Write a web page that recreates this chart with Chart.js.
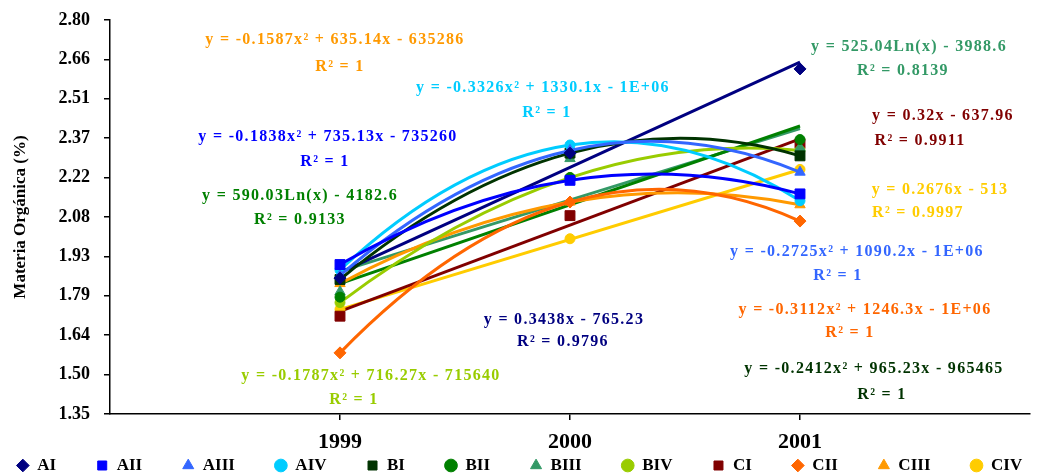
<!DOCTYPE html>
<html>
<head>
<meta charset="utf-8">
<script src="https://cdn.jsdelivr.net/npm/chart.js@4.4.0/dist/chart.umd.min.js"></script>
<style>
  html, body { margin: 0; padding: 0; background: #fff; overflow: hidden; }
  #chart { display: block; }
</style>
</head>
<body>
<canvas id="chart" width="1038" height="474"></canvas>
<script>
// years of the samples, and the two ends of the straight trend lines
const years = [1999, 2000, 2001];
const trendYears = [1999, 2001];

const seriesNames = ["AI", "AII", "AIII", "AIV", "BI", "BII", "BIII", "BIV", "CI", "CII", "CIII", "CIV"];

// organic matter (%)
const valuesAI   = [1.85, 2.31, 2.62];
const valuesAII  = [1.90, 2.21, 2.16];
const valuesAIII = [1.86, 2.32, 2.24];
const valuesAIV  = [1.88, 2.34, 2.135];
const valuesBI   = [1.845, 2.31, 2.30];
const valuesBII  = [1.78, 2.22, 2.36];
const valuesBIII = [1.80, 2.29, 2.33];
const valuesBIV  = [1.76, 2.22, 2.32];
const valuesCI   = [1.71, 2.08, 2.345];
const valuesCII  = [1.575, 2.13, 2.06];
const valuesCIII = [1.83, 2.13, 2.12];
const valuesCIV  = [1.735, 1.995, 2.25];

// linear / log trend lines (ends)
const trendAI   = [1.87, 2.645];
const trendBII  = [1.83, 2.41];
const trendBIII = [1.875, 2.40];
const trendCI   = [1.7275, 2.3625];
const trendCIV  = [1.735, 2.25];

const yTicks = [1.35, 1.495, 1.64, 1.785, 1.93, 2.075, 2.22, 2.365, 2.51, 2.655, 2.80];
const yTickLabels = ["1.35", "1.50", "1.64", "1.79", "1.93", "2.08", "2.22", "2.37", "2.51", "2.66", "2.80"];
const xTicks = [1999, 2000, 2001];

const FONT = '"Liberation Serif", "Times New Roman", serif';

const seriesValues = {
    AI: valuesAI, AII: valuesAII, AIII: valuesAIII, AIV: valuesAIV,
    BI: valuesBI, BII: valuesBII, BIII: valuesBIII, BIV: valuesBIV,
    CI: valuesCI, CII: valuesCII, CIII: valuesCIII, CIV: valuesCIV
};
const trendValues = { AI: trendAI, BII: trendBII, BIII: trendBIII, CI: trendCI, CIV: trendCIV };

const seriesStyle = {
    AI:   { color: "#000080", marker: "rectRot" },
    AII:  { color: "#0000FF", marker: "rect" },
    AIII: { color: "#3366FF", marker: "triangle" },
    AIV:  { color: "#00CCFF", marker: "circle" },
    BI:   { color: "#003300", marker: "rect" },
    BII:  { color: "#008000", marker: "circle" },
    BIII: { color: "#339966", marker: "triangle" },
    BIV:  { color: "#99CC00", marker: "circle" },
    CI:   { color: "#800000", marker: "rect" },
    CII:  { color: "#FF6600", marker: "rectRot" },
    CIII: { color: "#FF9900", marker: "triangle" },
    CIV:  { color: "#FFCC00", marker: "circle" }
};

// trend equations written on the chart (canvas pixels)
const equationLabels = [
    { s: "CIII", text: "y = -0.1587x² + 635.14x - 635286", r2: "R² = 1",      x: 335, y: 40,  rx: 340, ry: 67 },
    { s: "AIV",  text: "y = -0.3326x² + 1330.1x - 1E+06",  r2: "R² = 1",      x: 543, y: 88,  rx: 547, ry: 113 },
    { s: "AII",  text: "y = -0.1838x² + 735.13x - 735260", r2: "R² = 1",      x: 328, y: 137, rx: 325, ry: 162 },
    { s: "BII",  text: "y = 590.03Ln(x) - 4182.6",         r2: "R² = 0.9133", x: 300, y: 196, rx: 300, ry: 220 },
    { s: "AI",   text: "y = 0.3438x - 765.23",             r2: "R² = 0.9796", x: 564, y: 320, rx: 563, ry: 342 },
    { s: "BIV",  text: "y = -0.1787x² + 716.27x - 715640", r2: "R² = 1",      x: 371, y: 376, rx: 354, ry: 400 },
    { s: "BIII", text: "y = 525.04Ln(x) - 3988.6",         r2: "R² = 0.8139", x: 909, y: 47,  rx: 903, ry: 71 },
    { s: "CI",   text: "y = 0.32x - 637.96",               r2: "R² = 0.9911", x: 943, y: 116, rx: 920, ry: 141 },
    { s: "CIV",  text: "y = 0.2676x - 513",                r2: "R² = 0.9997", x: 940, y: 190, rx: 918, ry: 213 },
    { s: "AIII", text: "y = -0.2725x² + 1090.2x - 1E+06",  r2: "R² = 1",      x: 857, y: 252, rx: 838, ry: 276 },
    { s: "CII",  text: "y = -0.3112x² + 1246.3x - 1E+06",  r2: "R² = 1",      x: 865, y: 310, rx: 850, ry: 333 },
    { s: "BI",   text: "y = -0.2412x² + 965.23x - 965465", r2: "R² = 1",      x: 874, y: 369, rx: 882, ry: 395 }
];

function toPoints(xs, ys) {
    return xs.map((x, i) => ({ x: x, y: ys[i] }));
}

const datasets = [];

seriesNames.forEach(name => {
    const st = seriesStyle[name];
    const curved = !trendValues[name];
    datasets.push({
        label: name,
        isCurve: curved,
        data: toPoints(years, seriesValues[name]),
        borderColor: st.color,
        backgroundColor: st.color,
        pointBackgroundColor: st.color,
        pointBorderColor: st.color,
        pointBorderWidth: 1,
        pointStyle: st.marker,
        pointRadius: st.marker === "rect" ? 7 : (st.marker === "circle" ? 5 : 6),
        borderWidth: 3,
        showLine: curved,
        tension: 0.4,
        capBezierPoints: false,
        order: 0
    });
});

Object.keys(trendValues).forEach(name => {
    datasets.push({
        label: name + " trend",
        isTrend: true,
        data: toPoints(trendYears, trendValues[name]),
        borderColor: seriesStyle[name].color,
        borderWidth: 3,
        pointRadius: 0,
        showLine: true,
        order: 1
    });
});

// polynomial trend lines pass through the three points: bend them like a parabola
const parabolaPlugin = {
    id: "parabola",
    beforeDatasetDraw(chart, args) {
        const ds = chart.data.datasets[args.index];
        if (!ds.isCurve) return;
        const p = args.meta.data;
        if (p.length !== 3) return;
        args.meta.dataset.updateControlPoints(chart.chartArea, "x");
        const dx = (p[2].x - p[0].x) / 2;
        const s0 = (-3 * p[0].y + 4 * p[1].y - p[2].y) / (2 * dx);
        const s1 = (p[2].y - p[0].y) / (2 * dx);
        const s2 = (p[0].y - 4 * p[1].y + 3 * p[2].y) / (2 * dx);
        const h = dx / 3;
        p[0].cp2x = p[0].x + h; p[0].cp2y = p[0].y + s0 * h;
        p[1].cp1x = p[1].x - h; p[1].cp1y = p[1].y - s1 * h;
        p[1].cp2x = p[1].x + h; p[1].cp2y = p[1].y + s1 * h;
        p[2].cp1x = p[2].x - h; p[2].cp1y = p[2].y - s2 * h;
    }
};

const equationPlugin = {
    id: "equations",
    afterDatasetsDraw(chart) {
        const ctx = chart.ctx;
        ctx.save();
        ctx.font = "bold 16px " + FONT;
        ctx.letterSpacing = "1.3px";
        ctx.textAlign = "center";
        ctx.textBaseline = "middle";
        equationLabels.forEach(e => {
            ctx.fillStyle = seriesStyle[e.s].color;
            ctx.fillText(e.text, e.x, e.y);
            ctx.fillText(e.r2, e.rx, e.ry);
        });
        ctx.restore();
    }
};

new Chart(document.getElementById("chart"), {
    type: "line",
    data: { datasets: datasets },
    plugins: [parabolaPlugin, equationPlugin],
    options: {
        responsive: false,
        animation: false,
        devicePixelRatio: 1,
        layout: { padding: { left: 4, right: 3, top: 20, bottom: -10 } },
        plugins: {
            tooltip: { enabled: false },
            legend: {
                position: "bottom",
                labels: {
                    usePointStyle: true,
                    boxWidth: 12,
                    boxHeight: 9,
                    padding: 6,
                    color: "#000",
                    font: { family: FONT, size: 17, weight: "bold" },
                    generateLabels(chart) {
                        const items = Chart.defaults.plugins.legend.labels.generateLabels(chart)
                            .filter(it => !chart.data.datasets[it.datasetIndex].isTrend);
                        items.forEach((it, i) => {
                            if (i < items.length - 1) {
                                it.text += "        ";
                            }
                        });
                        return items;
                    }
                }
            }
        },
        scales: {
            x: {
                type: "linear",
                min: 1998,
                max: 2002,
                afterBuildTicks(scale) {
                    scale.ticks = xTicks.map(v => ({ value: v }));
                },
                afterFit(scale) {
                    scale.height = 37;
                },
                ticks: {
                    color: "#000",
                    padding: 9,
                    font: { family: FONT, size: 22, weight: "bold" },
                    callback: v => String(v)
                },
                grid: { drawOnChartArea: false, tickLength: 6, color: "#000", lineWidth: 1.5 },
                border: { color: "#000", width: 1.5 }
            },
            y: {
                min: 1.35,
                max: 2.80,
                afterBuildTicks(scale) {
                    scale.ticks = yTicks.map(v => ({ value: v }));
                },
                afterFit(scale) {
                    scale.width = 106;
                    scale.paddingTop = 8;
                    scale.paddingBottom = 8;
                },
                ticks: {
                    color: "#000",
                    padding: 14,
                    font: { family: FONT, size: 18, weight: "bold" },
                    callback: (v, i) => yTickLabels[i]
                },
                grid: { drawOnChartArea: false, tickLength: 6, color: "#000", lineWidth: 1.5 },
                border: { color: "#000", width: 1.5 },
                title: {
                    display: true,
                    text: "Materia Orgánica (%)",
                    color: "#000",
                    padding: { top: 6, bottom: 0 },
                    font: { family: FONT, size: 17, weight: "bold" }
                }
            }
        }
    }
});
</script>
</body>
</html>
